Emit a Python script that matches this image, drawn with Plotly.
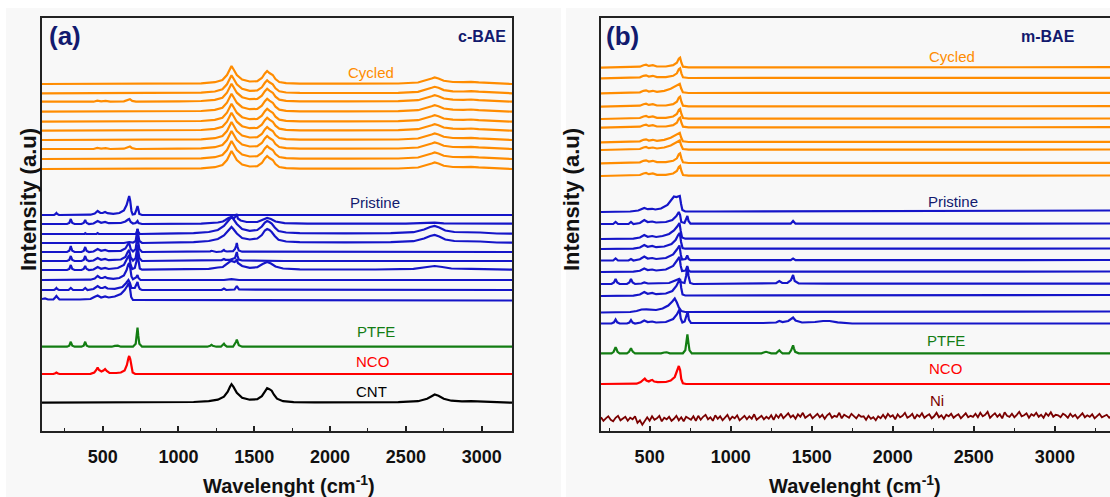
import plotly.graph_objects as go

# ---------------- DATA (x in cm-1, y = height above each curve's own baseline) ----------------
# Panel (a): c-BAE
cnt_a = [[100,0],[500,0],[900,0.3],[1100,0.7],[1200,1.5],[1260,3],[1300,6],[1325,11],[1340,16],[1350,18.5],[1362,16],[1385,10],[1420,5],[1470,3],[1520,3.5],[1550,6.5],[1570,11],[1585,14.5],[1600,13.5],[1615,12],[1630,8],[1650,4],[1690,1.5],[1760,0.6],[1900,0.4],[2200,0.4],[2450,0.6],[2580,1.5],[2640,4],[2670,6.5],[2690,8.2],[2715,7],[2750,4],[2800,2],[2870,1.3],[2930,1.6],[2990,1.2],[3080,0.4],[3200,0]]
nco_a = [[100,0],[175,0],[188,0.8],[195,1.5],[202,0.8],[215,0],[420,0.2],[445,1.5],[458,4],[467,6.5],[476,4],[492,2.5],[505,3.5],[516,5],[527,3],[545,1.2],[590,1],[620,1.5],[645,3.5],[660,9],[670,16],[675,18],[682,15],[690,6],[698,1.5],[715,0],[3200,0]]
ptfe_a = [[100,0],[265,0],[280,1],[286,3],[290,5],[294,3],[300,1],[315,0],[360,0],[375,1],[381,3],[385,5],[389,3],[395,1],[410,0],[560,0],[580,0.8],[600,1],[620,0],[700,0],[718,3],[725,11],[730,19],[735,11],[742,3],[760,0],[1190,0],[1210,1],[1218,1.8],[1226,1],[1250,0],[1280,0],[1293,1.5],[1300,3],[1307,1.5],[1320,0],[1360,0],[1373,2.5],[1380,5],[1385,7],[1390,4],[1398,1.5],[1420,0],[3200,0]]
cycled_a = [[100,0],[600,0],[1000,0.3],[1150,0.7],[1240,1.8],[1290,4],[1320,9],[1338,15],[1350,18],[1362,15],[1385,9],[1420,4.5],[1470,2.5],[1520,2.8],[1550,6],[1570,10.5],[1585,13],[1600,11],[1612,10],[1622,9],[1640,5],[1665,2],[1710,0.8],[1800,0.4],[2100,0.3],[2450,0.5],[2580,1.5],[2640,3.8],[2670,5.5],[2690,6.5],[2715,5.5],[2750,3.2],[2810,2],[2880,1.8],[2930,2.2],[2980,1.6],[3080,0.6],[3200,0]]
cycled_a_bumps = [[440,0],[465,1],[490,0.3],[520,0.8],[550,0],[640,0.3],[665,1.2],[680,2.5],[695,0.8],[720,0]]
cycled_a_offsets = [347, 337.7, 329.3, 319.3, 309.3, 300.3, 291, 282, 272, 262]
cycled_a_with_bumps = [2, 7]

pristine_a = [
    [[100,0],[180,0],[190,1],[195,2],[200,1],[212,0],[420,0.3],[448,1.5],[467,4],[485,2],[500,2],[516,3],[532,1.8],[570,1.2],[610,2],[640,4.5],[658,10],[668,17],[675,19],[682,14],[690,4],[698,0.5],[712,1],[720,4],[726,8],[730,9],[735,6],[742,1],[760,0],[3200,0]],
    [[100,0],[265,0],[280,1],[286,3],[290,5],[294,3],[300,1],[315,0],[360,0],[375,1],[381,2.5],[385,4],[389,2.5],[395,1],[410,0],[440,0.5],[467,3],[490,1.2],[516,2],[540,0.8],[620,1],[650,2.5],[668,4.5],[675,5],[685,2],[700,0.5],[718,1],[725,2],[730,3],[736,1],[760,0],[1150,0.3],[1210,0.8],[1218,1.2],[1226,0.9],[1260,1.5],[1293,2.5],[1300,3],[1310,4],[1330,6],[1350,7],[1368,6],[1380,8],[1385,10],[1392,5.5],[1410,3.5],[1450,2],[1520,2],[1560,4.5],[1585,6],[1610,5],[1640,2.5],[1700,0.8],[1850,0.3],[2500,0.3],[2640,0.8],[2690,1.3],[2750,0.7],[2900,0.4],[3200,0.3]],
    [[100,0],[380,0],[385,0.8],[392,0],[460,0],[467,0.8],[475,0],[720,0],[726,2.5],[730,5],[735,2],[745,0],[900,0.3],[1100,0.8],[1200,2],[1260,4],[1300,8],[1325,13],[1340,16],[1350,17],[1362,15],[1385,10],[1420,5],[1470,3.2],[1520,4],[1550,7.5],[1570,11.5],[1585,13],[1600,12],[1615,10.5],[1635,6.5],[1660,3],[1710,1.5],[1800,0.8],[2100,0.6],[2400,0.8],[2550,1.8],[2620,4.5],[2660,7],[2690,8],[2720,6.5],[2760,3.5],[2820,2],[2880,1.8],[2930,2.2],[2990,1.5],[3100,0.5],[3200,0.3]],
    [[100,0],[640,0],[675,1],[700,0.3],[718,2],[725,8],[730,14],[735,8],[742,2],[760,0],[900,0.3],[1100,0.8],[1200,2],[1260,4],[1300,7.5],[1325,12],[1340,15],[1350,16],[1362,14],[1385,9.5],[1420,5],[1470,3.5],[1520,4.5],[1550,8],[1570,12.5],[1585,14],[1600,13],[1615,11],[1635,7],[1660,3.2],[1710,1.5],[1800,0.8],[2100,0.6],[2400,0.8],[2550,1.8],[2620,4.5],[2660,7],[2690,8],[2720,6.5],[2760,3.5],[2820,2],[2880,1.8],[2930,2.2],[2990,1.5],[3100,0.5],[3200,0.3]],
    [[100,0],[265,0],[280,1.2],[286,3.5],[290,6],[294,3.5],[300,1.2],[315,0],[360,0],[375,1],[381,3],[385,5],[389,3],[395,1],[410,0],[440,0.5],[467,3],[490,1.2],[516,2],[540,0.8],[620,1.2],[650,3.5],[668,8],[675,9],[685,3],[700,0.5],[718,3],[725,10],[730,17],[735,10],[742,3],[760,0],[1190,0],[1210,0.7],[1218,1.2],[1226,0.7],[1250,0],[1285,0.5],[1293,1.5],[1300,2],[1307,1],[1320,0.5],[1360,0.8],[1373,3],[1380,6],[1385,9],[1390,5],[1398,1.5],[1420,0.3],[3200,0]],
    [[100,0],[265,0],[280,1],[286,3],[290,5],[294,3],[300,1],[315,0],[360,0],[375,1],[381,3],[385,5],[389,3],[395,1],[410,0],[440,0.5],[467,3],[490,1.2],[516,2],[540,0.8],[620,1.5],[650,4],[665,9],[675,11],[685,3.5],[700,0.5],[718,3],[725,10],[730,16],[735,10],[742,3],[760,0],[1200,0.3],[1285,0.8],[1293,1.5],[1300,2],[1310,1.2],[1340,1.2],[1373,3],[1380,6],[1385,9],[1390,5],[1398,1.5],[1420,0.5],[1580,0.6],[1700,0],[3200,0]],
    [[100,0],[265,0],[280,1],[286,3],[290,5],[294,3],[300,1],[315,0],[360,0],[375,1],[381,2.5],[385,4],[389,2.5],[395,1],[410,0],[440,0.5],[467,3],[490,1.2],[516,2],[540,1],[600,2],[640,5],[660,11],[675,15],[684,6],[695,1],[712,2],[722,8],[730,16],[736,8],[745,1.5],[760,0.3],[1100,0.5],[1200,1.2],[1260,2.5],[1293,3],[1300,4],[1320,6.5],[1340,8.5],[1350,9],[1370,8],[1380,9],[1385,11],[1392,7],[1420,4],[1470,2.2],[1520,2.8],[1555,6],[1585,8],[1610,6.5],[1640,3.5],[1690,1.5],[1800,0.6],[2300,0.5],[2550,1.2],[2640,3],[2690,4],[2740,3],[2800,1.5],[2930,1.2],[3050,0.5],[3200,0.3]],
    [[100,0],[420,0.3],[448,1.5],[467,4],[485,2],[500,2],[516,3],[532,1.8],[570,1.2],[610,2],[640,4.5],[658,10],[668,15],[675,17],[682,12],[690,3.5],[700,0.8],[720,2.5],[730,5],[736,2],[750,0],[1300,0],[1350,0.8],[1400,0],[3200,0]],
    [[100,0],[180,0],[190,1],[195,2],[200,1],[212,0],[275,0],[290,2],[305,0],[370,0],[385,2],[400,0],[440,1],[467,4],[485,2],[500,2],[516,3],[532,1.5],[580,1.2],[630,3],[655,7],[670,10],[680,7],[690,2],[712,2],[722,5],[730,8],[736,4],[745,1],[760,0],[1285,0],[1300,1.5],[1315,0],[1370,0.5],[1380,3],[1385,4],[1390,2.5],[1400,0.5],[3200,0]],
    [[100,1],[120,1.5],[140,0.5],[175,0.5],[187,2.5],[195,4],[203,2.5],[215,0.5],[350,0.5],[420,1],[445,3],[467,4.5],[490,2.5],[516,3.5],[540,2.5],[580,3.5],[620,6],[645,10],[662,14],[672,17],[680,12],[688,3],[700,0],[3200,-0.5]],
]
pristine_a_offsets = [216, 207, 197, 188, 179, 170, 161, 151, 141, 131]
ptfe_a_offset = 84.3
nco_a_offset = 57
cnt_a_offset = 28.3

# Panel (b): m-BAE
cycled_b = [[200,0],[380,0.3],[440,1],[462,2.5],[478,3],[495,1.8],[520,2.5],[545,1.2],[600,1.2],[645,2.5],[668,5],[680,9],[688,10],[696,5],[706,1],[740,0.3],[1200,0.3],[3340,0.5]]
cycled_b_broad = [[200,0],[380,0.3],[440,1],[462,2.5],[478,3],[495,1.8],[520,2.5],[545,1.5],[590,2.5],[630,4.5],[660,7],[678,9],[686,9.5],[694,5],[705,1],[740,0.3],[1200,0.3],[3340,0.5]]
cycled_b_offsets = [363.3, 352.7, 337.7, 324.3, 312, 303.3, 288.7, 281, 267.7, 255]
cycled_b_broad_idx = [2, 6, 7]

pristine_b = [
    [[200,0],[380,0.5],[430,1.5],[450,3],[467,4],[488,2.8],[505,3],[516,3.2],[535,2.5],[570,3.5],[610,7],[635,12],[650,15.5],[665,15],[678,15.5],[686,16],[694,8],[702,2],[720,0.5],[900,0.5],[3340,1.5]],
    [[200,0],[275,0],[290,2],[305,0],[370,0],[385,2],[400,0],[440,1],[467,4],[488,2],[516,2.5],[540,1.5],[600,2],[640,4],[665,8],[680,12],[688,9],[695,2],[715,1],[726,5],[733,8],[740,3],[752,0.3],[1370,0.3],[1385,3],[1400,0.3],[3340,0.5]],
    [[200,0],[400,0.3],[440,1.5],[467,4],[488,2.2],[516,3],[540,2],[580,3],[620,5],[650,8.5],[670,12.5],[684,16],[692,8],[700,1.5],[720,0.3],[3340,0.5]],
    [[200,0],[400,0.3],[440,1.5],[467,4],[488,2.2],[516,3],[540,1.8],[590,2.5],[635,5],[660,9],[676,14],[686,16],[694,7],[703,1],[720,0.3],[3340,0.5]],
    [[200,0],[275,0],[290,2],[305,0],[370,0],[385,1.5],[400,0],[440,1.2],[467,4],[488,2],[516,2.5],[540,1.5],[600,2.5],[645,6],[668,11],[684,15],[692,6],[700,1],[722,1.5],[732,5],[740,1.5],[752,0.3],[1370,0.3],[1385,2],[1400,0.3],[3340,0.5]],
    [[200,0],[400,0.3],[440,1.2],[467,3.5],[488,2],[516,2.5],[540,1.5],[600,2.5],[645,6],[668,11],[684,15],[692,6],[700,1],[722,1.5],[732,6],[740,1.5],[752,0.3],[3340,0.5]],
    [[200,0],[265,0],[280,1.5],[290,5],[300,1.5],[315,0],[360,0],[375,1.5],[385,5],[395,1.5],[410,0],[450,0.5],[467,1.5],[490,0.5],[620,1],[665,3.5],[682,5],[692,2],[715,1],[725,8],[733,17],[740,8],[750,1],[770,0],[1200,0.3],[1218,1],[1240,0.3],[1280,0.8],[1300,3],[1318,1],[1350,1.2],[1372,4],[1385,9],[1395,3],[1420,0.5],[1600,0.3],[3340,0.3]],
    [[200,0],[400,0.3],[440,1.5],[467,4],[488,2.2],[516,3],[540,1.8],[600,2.5],[640,5],[665,10],[680,15],[688,17],[695,8],[703,1.5],[720,0.5],[3340,1]],
    [[200,0],[380,0.5],[420,1.5],[450,3],[480,3.2],[510,3],[540,2.5],[580,4],[615,7],[640,11],[655,14],[668,10],[680,5],[695,1.5],[720,0.5],[3340,1]],
    [[200,0],[265,0],[280,1.2],[290,4],[300,1.2],[315,0],[360,0],[375,1],[385,3.5],[395,1],[410,0],[445,1],[467,3],[488,1.5],[516,2],[540,1],[600,1.5],[645,4.5],[668,9],[684,14],[692,5],[702,1],[716,2],[727,7],[735,12],[742,4],[755,0.5],[1200,0.5],[1280,1],[1300,2.5],[1320,1.5],[1355,2.5],[1372,4],[1385,6],[1400,3],[1440,1],[1520,1.5],[1570,2.5],[1610,2.5],[1660,1.2],[1750,0],[3340,0]],
]
pristine_b_offsets = [219, 207, 192, 182, 170.5, 159, 147, 135, 118.5, 107.5]

ptfe_b = [[200,0],[265,0],[278,1.5],[284,4],[290,6],[296,4],[302,1.5],[315,0],[360,0],[373,1.5],[379,3],[385,5],[391,3],[397,1.5],[410,0],[570,0],[590,0.8],[605,1],[625,0],[705,0],[720,3],[727,11],[733,19],[739,11],[746,3],[760,0],[1190,0],[1208,1],[1218,1.5],[1228,1],[1250,0],[1280,0],[1292,1.5],[1300,3],[1308,1.5],[1320,0],[1360,0],[1373,3],[1380,6],[1385,8],[1390,5],[1398,1.5],[1420,0],[3340,0]]
nco_b = [[200,0],[420,0.3],[445,2],[462,4.5],[470,5.5],[480,3.5],[495,2.5],[505,3.5],[516,4],[528,2.5],[550,1.8],[600,2],[630,3.5],[655,7],[670,14],[680,18],[688,14],[695,5],[705,0.8],[725,0],[3340,0]]
ni_b_start = 200
ni_b_step = 15
ni_b = [1.5,-2,0.5,2.5,-1,-2.5,1,3,-1.5,0,2,-2,1,-0.5,2.5,
        -4,-1.5,-6,-2.5,
        1.5,-2,2.5,-1,0.5,3,-2.5,1,-0.5,2,-2,0,3,-1.5,1.5,-2.5,2,0.5,-1,2.5,-2,
        3,-1,2,4,-0.5,1.5,-2,3.5,0,2.5,-1.5,1,4,-1,2,0.5,3.5,-1.5,1,3,-0.5,2.5,0,4.5,-1,1.5,3,-0.5,2,0,3.5,-1,
        4,1,5,0.5,3,5.5,1.5,3.5,0,4.5,2,6,1,3,4.5,0.5,2.5,5,1.5,4,0,3.5,5.5,1,3,2,6,0.5,4,2.5,1,5,3,0.5,4,2,
        2.5,-1,3,0,1.5,-1.5,2.5,0.5,
        4,0.5,5,2,3.5,-0.5,4.5,1.5,3,6,1,2.5,5,0,4,2,5.5,1,3,4.5,0.5,2.5,6,1.5,3.5,0,4,2.5,5,1,3,4.5,0.5,3.5,5.5,1.5,3,2,
        5,1.5,6,2.5,4,7,1,3.5,5.5,2,4.5,0.5,6.5,3,2,5,1.5,4,7,2.5,3.5,5.5,1,4.5,3,6,2,4,1,5.5,3,6.5,2,4,3.5,1.5,5,
        3.5,1,5,2,4,0.5,3,5.5,1.5,3.5,2,4.5,0.5,3,5,1.5,2.5,4,1,3]
ptfe_b_offset = 77.7
nco_b_offset = 47
ni_b_offset = 12.2

tick_vals = [500, 1000, 1500, 2000, 2500, 3000]
tick_text = ["500", "1000", "1500", "2000", "2500", "3000"]

# ---------------- STYLE ----------------
W, H = 1110, 497
ORANGE = "#ff8c00"
BLUE = "#1515c8"
GREEN = "#137d13"
RED = "#ff0000"
NI = "#7a0000"
NAVY = "#121a6e"
FONT = "Liberation Sans"
BG = "#f8f8f8"

def fx(p):
    return p / W

def fy(p):
    return 1 - p / H

fig = go.Figure()

def add_curve(profile, offset, color, xa, ya, width=2.2):
    fig.add_trace(go.Scatter(
        x=[p[0] for p in profile], y=[p[1] + offset for p in profile],
        mode="lines", line=dict(color=color, width=width),
        xaxis=xa, yaxis=ya, showlegend=False, hoverinfo="skip"))

# panel a
for i, off in enumerate(cycled_a_offsets):
    prof = cycled_a
    if i in cycled_a_with_bumps:
        prof = [cycled_a[0]] + cycled_a_bumps + cycled_a[2:]
    add_curve(prof, off, ORANGE, "x", "y")
for prof, off in zip(pristine_a, pristine_a_offsets):
    add_curve(prof, off, BLUE, "x", "y")
add_curve(ptfe_a, ptfe_a_offset, GREEN, "x", "y")
add_curve(nco_a, nco_a_offset, RED, "x", "y")
add_curve(cnt_a, cnt_a_offset, "#000000", "x", "y")

# panel b
for i, off in enumerate(cycled_b_offsets):
    prof = cycled_b_broad if i in cycled_b_broad_idx else cycled_b
    add_curve(prof, off, ORANGE, "x2", "y2")
for prof, off in zip(pristine_b, pristine_b_offsets):
    add_curve(prof, off, BLUE, "x2", "y2")
add_curve(ptfe_b, ptfe_b_offset, GREEN, "x2", "y2")
add_curve(nco_b, nco_b_offset, RED, "x2", "y2")
ni_profile = [[ni_b_start + k * ni_b_step, v] for k, v in enumerate(ni_b)]
add_curve(ni_profile, ni_b_offset, NI, "x2", "y2", width=1.8)

axis_common = dict(
    showgrid=False, zeroline=False, showline=True, linecolor="#222222", linewidth=1.6,
    automargin=False,
)
xcommon = dict(axis_common, mirror=True, ticks="inside", ticklen=5, tickwidth=1.5,
               tickcolor="#222222", tickvals=tick_vals, ticktext=tick_text,
               tickfont=dict(family=FONT, size=18, color="#111111", weight="bold"),
               ticklabelstandoff=9,
               minor=dict(ticks="inside", ticklen=3, tickwidth=1.3, tickcolor="#222222",
                          tickvals=[250, 750, 1250, 1750, 2250, 2750, 3250]))
ycommon = dict(axis_common, showticklabels=False, ticks="", range=[0, 413])

fig.update_layout(
    width=W, height=H, margin=dict(l=0, r=0, t=0, b=0),
    paper_bgcolor=BG, plot_bgcolor=BG,
    xaxis=dict(xcommon, domain=[fx(42), fx(512)], range=[100, 3200], anchor="y"),
    yaxis=dict(ycommon, domain=[fy(431), fy(18)], anchor="x", mirror=True),
    xaxis2=dict(xcommon, domain=[fx(601), 1.0], range=[200, 3340], anchor="y2"),
    yaxis2=dict(ycommon, domain=[fy(431), fy(18)], anchor="x2", mirror=False),
)

# white borders around the two picture panels
for x0, x1, y0, y1 in [(0, W, 0, 8), (0, 6, 0, H), (561, 566, 0, H)]:
    fig.add_shape(type="rect", xref="paper", yref="paper", x0=fx(x0), x1=fx(x1),
                  y0=fy(y1), y1=fy(y0), fillcolor="white", line_width=0, layer="below")

ann = []
def text(t, x, y, size, color, xanchor="center", bold=False, angle=0, xref="paper", yref="paper"):
    ann.append(dict(text=(f"<b>{t}</b>" if bold else t), x=x, y=y, xref=xref, yref=yref,
                    xanchor=xanchor, yanchor="middle", showarrow=False, textangle=angle,
                    font=dict(family=FONT, size=size, color=color)))

# panel labels
text("(a)", fx(47), fy(36), 26, NAVY, "left", True)
text("c-BAE", fx(508), fy(36), 16, NAVY, "right", True)
text("(b)", fx(604), fy(36), 26, NAVY, "left", True)
text("m-BAE", fx(1077), fy(36), 16, NAVY, "right", True)
# series labels (data coords)
text("Cycled", 2270, 359, 15, ORANGE, xref="x", yref="y")
text("Pristine", 2296, 229, 15, NAVY, xref="x", yref="y")
text("PTFE", 2302, 100, 15, GREEN, xref="x", yref="y")
text("NCO", 2282, 70, 15, RED, xref="x", yref="y")
text("CNT", 2274, 40, 15, "#000000", xref="x", yref="y")
text("Cycled", 2367, 375, 15, ORANGE, xref="x2", yref="y2")
text("Pristine", 2373, 230, 15, NAVY, xref="x2", yref="y2")
text("PTFE", 2330, 91, 15, GREEN, xref="x2", yref="y2")
text("NCO", 2323, 63, 15, RED, xref="x2", yref="y2")
text("Ni", 2274, 31, 15, NI, xref="x2", yref="y2")
# axis titles
text("Intensity (a.u)", fx(28), fy(200), 22, "#111111", bold=True, angle=-90)
text("Intensity (a.u)", fx(571), fy(200), 22, "#111111", bold=True, angle=-90)
text("Wavelenght (cm<sup>-1</sup>)", fx(289), fy(484), 20, "#111111", bold=True)
text("Wavelenght (cm<sup>-1</sup>)", fx(855), fy(484), 20, "#111111", bold=True)
fig.update_layout(annotations=ann)

fig.write_html("out.html")
